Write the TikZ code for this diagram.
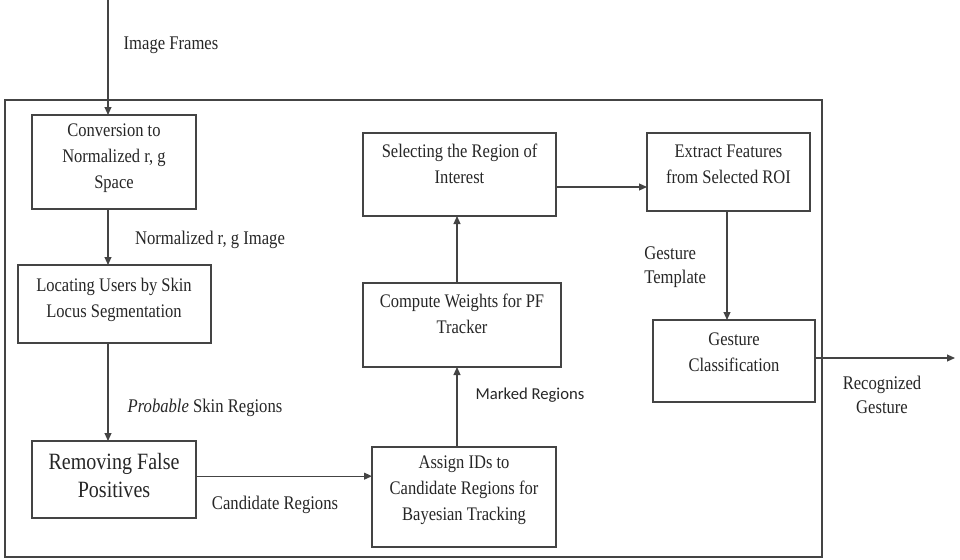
\documentclass[tikz,border=0pt]{standalone}
\usepackage{fontspec}
\setmainfont{Liberation Serif}[FakeStretch=0.86]
\newfontfamily\lblsans{Carlito}
\usetikzlibrary{arrows.meta}
\definecolor{linec}{HTML}{444444}
\definecolor{txtc}{HTML}{262626}
\begin{document}
\begin{tikzpicture}[x=0.75pt,y=-0.75pt,
  box/.style={draw=linec, line width=0.95pt, inner sep=0pt, outer sep=0pt},
  btxt/.style={align=center, text=txtc, inner sep=0pt, font=\fontsize{14.4}{19.5}\selectfont},
  bigtxt/.style={align=center, text=txtc, inner sep=0pt, font=\fontsize{17.5}{21}\selectfont},
  lbl/.style={text=txtc, inner sep=0pt, font=\fontsize{14.5}{18}\selectfont},
  arr/.style={draw=linec, line width=0.95pt, -{Triangle[length=6pt,width=5.2pt]}},
  frame/.style={draw=linec, line width=0.95pt}]
\useasboundingbox (0,0) rectangle (960,560);
\draw[frame] (5,100) rectangle (822,557);

% boxes
\node[box, minimum width={164*0.75pt}, minimum height={94*0.75pt}] (b1) at (114,162) {};
\node[box, minimum width={193*0.75pt}, minimum height={78*0.75pt}] (b2) at (114.5,304) {};
\node[box, minimum width={164*0.75pt}, minimum height={77*0.75pt}] (b3) at (114,479.5) {};
\node[box, minimum width={184*0.75pt}, minimum height={100*0.75pt}] (b4) at (464,497) {};
\node[box, minimum width={198*0.75pt}, minimum height={84*0.75pt}] (b5) at (462,325) {};
\node[box, minimum width={193*0.75pt}, minimum height={83*0.75pt}] (b6) at (459.5,174.5) {};
\node[box, minimum width={163*0.75pt}, minimum height={78*0.75pt}] (b7) at (728.5,172) {};
\node[box, minimum width={162*0.75pt}, minimum height={82*0.75pt}] (b8) at (734,361) {};

% box texts
\node[btxt] (t1) at (114,158) {Conversion to\\Normalized r, g\\Space};
\node[btxt] (t2) at (114,300) {Locating Users by Skin\\Locus Segmentation};
\node[bigtxt] (t3) at (114,476) {Removing False\\Positives};
\node[btxt] (t4) at (464,490) {Assign IDs to\\Candidate Regions for\\Bayesian Tracking};
\node[btxt] (t5) at (462,314) {Compute Weights for PF\\Tracker};
\node[btxt] (t6) at (459.5,164) {Selecting the Region of\\Interest};
\node[btxt] (t7) at (728.5,164) {Extract Features\\from Selected ROI};
\node[btxt] (t8) at (734,352) {Gesture\\Classification};

% connector helper coordinates
\coordinate (in) at (108,0);
\coordinate (xb) at (457,0);
\coordinate (xf) at (727,0);
\coordinate (y67) at (0,187);
\coordinate (out) at (955,358);

% connectors
\draw[arr] (in) -- (in |- b1.north);
\draw[arr] (in |- b1.south) -- (in |- b2.north);
\draw[arr] (in |- b2.south) -- (in |- b3.north);
\draw[arr] ([yshift=2.5pt]b3.east) -- ([yshift=2.5pt]b3.east -| b4.west);
\draw[arr] (xb |- b4.north) -- (xb |- b5.south);
\draw[arr] (xb |- b5.north) -- (xb |- b6.south);
\draw[arr] (b6.east |- y67) -- (b7.west |- y67);
\draw[arr] (xf |- b7.south) -- (xf |- b8.north);
\draw[arr] (b8.east |- out) -- (out);

% labels
\node[lbl] (l1) at (171,45) {Image Frames};
\node[lbl] (l2) at (210,240) {Normalized r, g Image};
\node[lbl] (l3) at (205,408) {\textit{Probable} Skin Regions};
\node[lbl] (l4) at (275,505) {Candidate Regions};
\node[lbl, font=\lblsans\fontsize{12.5}{18}\selectfont] (l5) at (530,395) {Marked Regions};
\node[lbl, align=left, anchor=west] (l6) at (644,267) {Gesture\\Template};
\node[lbl, align=center] (l7) at (882,395) {Recognized\\Gesture};
\end{tikzpicture}
\end{document}
